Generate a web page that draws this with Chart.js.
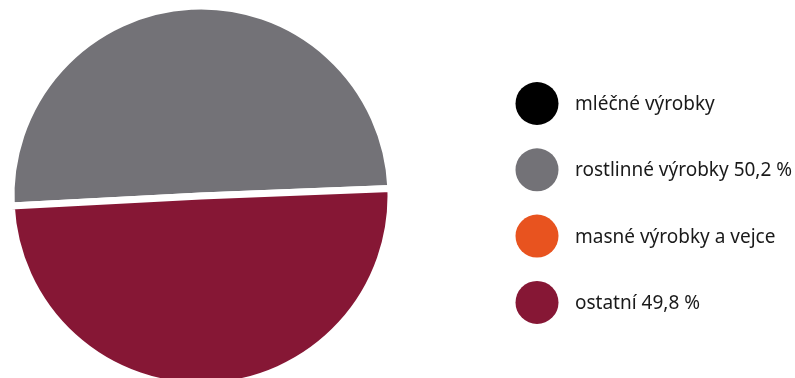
<!DOCTYPE html>
<html>
<head>
<meta charset="utf-8">
<style>
  html, body { margin: 0; padding: 0; background: #fff; }
  #wrap { width: 795px; height: 378px; position: relative; }
</style>
<script src="https://cdn.jsdelivr.net/npm/chart.js@4/dist/chart.umd.min.js"></script>
</head>
<body>
<div id="wrap"><canvas id="myChart" width="795" height="378"></canvas></div>
<script>
const categories = [
  'mléčné výrobky',
  'rostlinné výrobky',
  'masné výrobky a vejce',
  'ostatní',
];
const shares = [0, 50.2, 0, 49.8];
const colors = ['#000000', '#737277', '#e8531f', '#861735'];

const formatShare = function(v) {
  return v.toFixed(1).replace('.', ',') + ' %';
}

// legend drawn by hand: big round swatches next to the pie
const sideLegend = {
  id: 'sideLegend',
  afterDraw(chart) {
    const ctx = chart.ctx;
    const ds = chart.data.datasets[0];
    const x = 537, top = 103.5, step = 66.3, r = 21.5;
    ctx.save();
    ctx.font = '19px "Noto Sans"';
    ctx.textBaseline = 'middle';
    chart.data.labels.forEach((label, i) => {
      const y = top + i * step;
      ctx.beginPath();
      ctx.arc(x, y, r, 0, Math.PI * 2);
      ctx.fillStyle = ds.backgroundColor[i];
      ctx.fill();
      const v = ds.data[i];
      const text = v > 0 ? label + ' ' + formatShare(v) : label;
      ctx.fillStyle = '#1a1a1a';
      ctx.fillText(text, 575, y + 1);
    });
    ctx.restore();
  }
};

const data = {
  labels: categories,
  datasets: [{
    data: shares,
    backgroundColor: colors,
    borderColor: '#ffffff',
    borderWidth: 7,
    radius: 190,
    clip: false,
  }]
};

const config = {
  type: 'pie',
  data,
  options: {
    responsive: false,
    animation: false,
    rotation: 267,
    layout: { padding: { left: 0, right: 393, top: 14, bottom: 0 } },
    plugins: {
      legend: { display: false },
      tooltip: { enabled: false }
    }
  },
  plugins: [sideLegend]
};

const myChart = new Chart(
  document.getElementById('myChart'),
  config
);
</script>
</body>
</html>
